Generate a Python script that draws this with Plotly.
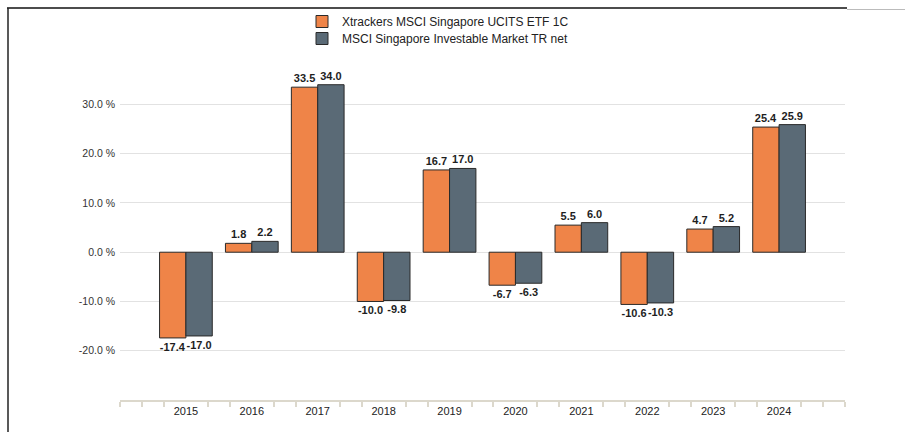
import plotly.graph_objects as go

# Calendar-year performance, in percent
years = ["2015", "2016", "2017", "2018", "2019", "2020", "2021", "2022", "2023", "2024"]
fund_name = "Xtrackers MSCI Singapore UCITS ETF 1C"
index_name = "MSCI Singapore Investable Market TR net"
fund_returns = [-17.4, 1.8, 33.5, -10.0, 16.7, -6.7, 5.5, -10.6, 4.7, 25.4]
index_returns = [-17.0, 2.2, 34.0, -9.8, 17.0, -6.3, 6.0, -10.3, 5.2, 25.9]
y_ticks = [-20, -10, 0, 10, 20, 30]

W, H = 905, 432
L, R, T, B = 120, 60, 65, 32
Y_MIN, Y_MAX = -30, 38
X_MIN, X_MAX = -1, 10

FONT = "Liberation Sans, Arial, sans-serif"
ORANGE = "#ef8448"
SLATE = "#5a6a76"
EDGE = "#2a2a2a"
AXIS = "#dcd8cc"

x_pos = list(range(len(years)))
pw, ph = W - L - R, H - T - B
px = lambda p: (p - L) / pw          # pixel column -> paper x
py = lambda p: (H - B - p) / ph      # pixel row -> paper y


def bar_trace(values, name, color, legend):
    return go.Bar(
        x=x_pos,
        y=values,
        name=name,
        legend=legend,
        marker=dict(color=color, line=dict(color=EDGE, width=1)),
        text=[f"{v:.1f}" for v in values],
        textposition="outside",
        textfont=dict(family=FONT, size=11, color="#1e1e1e", weight="bold"),
        constraintext="none",
        cliponaxis=False,
    )


fig = go.Figure([
    bar_trace(fund_returns, fund_name, ORANGE, "legend"),
    bar_trace(index_returns, index_name, SLATE, "legend2"),
])

# small ticks along the category axis, every third of a category
minor_ticks = [X_MIN + k / 3 for k in range(0, 3 * (X_MAX - X_MIN) + 1)
               if k % 3 != 0 or k in (0, 3 * (X_MAX - X_MIN))]

legend_style = dict(
    orientation="v",
    x=px(302),
    xanchor="left",
    yanchor="top",
    font=dict(family=FONT, size=12, color="#222222"),
    bgcolor="rgba(0,0,0,0)",
    borderwidth=0,
)

fig.update_layout(
    width=W,
    height=H,
    margin=dict(l=L, r=R, t=T, b=B, pad=0, autoexpand=False),
    paper_bgcolor="white",
    plot_bgcolor="white",
    barmode="group",
    bargap=0.2,
    bargroupgap=0.0,
    font=dict(family=FONT, color="#333333"),
    showlegend=True,
    legend=dict(legend_style, y=py(7)),
    legend2=dict(legend_style, y=py(24)),
    xaxis=dict(
        range=[X_MIN, X_MAX],
        tickmode="array",
        tickvals=x_pos,
        ticktext=years,
        ticks="",
        showgrid=False,
        zeroline=False,
        showline=True,
        linecolor=AXIS,
        linewidth=2,
        automargin=False,
        tickfont=dict(family=FONT, size=11, color="#222222"),
        minor=dict(
            tickmode="array",
            tickvals=minor_ticks,
            ticks="outside",
            ticklen=5,
            tickwidth=1.5,
            tickcolor=AXIS,
            showgrid=False,
        ),
        fixedrange=True,
    ),
    yaxis=dict(
        range=[Y_MIN, Y_MAX],
        tickmode="array",
        tickvals=y_ticks,
        ticktext=[f"{v:.1f} %" for v in y_ticks],
        showgrid=True,
        gridcolor="#e2e2e2",
        gridwidth=1,
        zeroline=False,
        showline=False,
        ticks="",
        ticklabelstandoff=4,
        automargin=False,
        tickfont=dict(family=FONT, size=10.5, color="#333333"),
        fixedrange=True,
    ),
)

# outer frame lines (top and left)
fig.add_shape(type="line", xref="paper", yref="paper",
              x0=px(7), x1=px(847), y0=py(8), y1=py(8),
              line=dict(color="#111111", width=1.5))
fig.add_shape(type="line", xref="paper", yref="paper",
              x0=px(8), x1=px(8), y0=py(8), y1=py(H + 2),
              line=dict(color="#222222", width=1.5))
fig.add_shape(type="line", xref="paper", yref="paper",
              x0=px(847), x1=px(W), y0=py(9.5), y1=py(9.5),
              line=dict(color="#bbbbbb", width=1))

fig.write_html("out.html", config={"displayModeBar": False})
